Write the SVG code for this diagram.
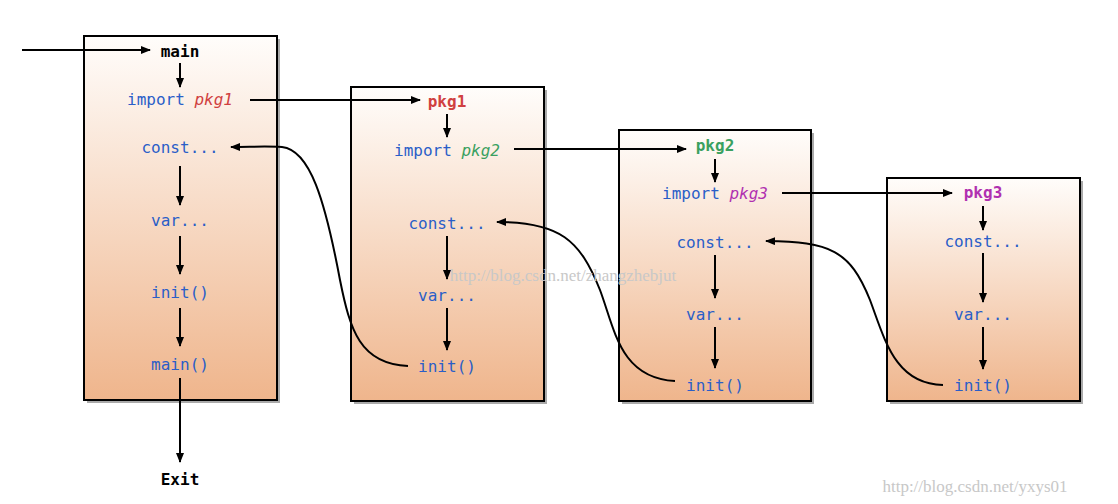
<svg xmlns="http://www.w3.org/2000/svg" width="1118" height="504" viewBox="0 0 1118 504">
<style>
text{font-family:"DejaVu Sans Mono","Liberation Mono",monospace;font-size:16px;text-anchor:middle}
.b{fill:#2a5ec8}.k{fill:#000;font-weight:bold}.r{fill:#d04040}.g{fill:#3aa060}.m{fill:#b030b0}
.i{font-style:italic}
.box{fill:url(#gr);stroke:#000;stroke-width:2}
.sh{fill:#555;opacity:.5}
.c line,.c path{stroke:#000;stroke-width:2;fill:none;marker-end:url(#ah)}
.wm{fill:#c8c8c8;font-family:"Liberation Serif",serif;font-size:17px}
</style>
<defs>
<linearGradient id="gr" x1="0" y1="0" x2="0" y2="1"><stop offset="0" stop-color="#fffdfb"/><stop offset="1" stop-color="#efb58c"/></linearGradient>
<marker id="ah" markerWidth="10" markerHeight="8" refX="9" refY="4" orient="auto" markerUnits="userSpaceOnUse"><path d="M0,0L10,4L0,8z" fill="#000"/></marker>
</defs>
<g id="main-box"><rect class="sh" x="87" y="39" width="193" height="364"/><rect class="box" x="84" y="36" width="193" height="364"/>
<text class="k" x="180" y="57">main</text>
<text x="180" y="105"><tspan class="b">import </tspan><tspan class="r i">pkg1</tspan></text>
<text class="b" x="180" y="153">const...</text><text class="b" x="180" y="226">var...</text><text class="b" x="180" y="298">init()</text><text class="b" x="180" y="370">main()</text></g>
<g id="pkg1-box"><rect class="sh" x="354" y="90" width="193" height="314"/><rect class="box" x="351" y="87" width="193" height="314"/>
<text class="r" font-weight="bold" x="447" y="107">pkg1</text>
<text x="447" y="156"><tspan class="b">import </tspan><tspan class="g i">pkg2</tspan></text>
<text class="b" x="447" y="229">const...</text><text class="b" x="447" y="301">var...</text><text class="b" x="447" y="372">init()</text></g>
<g id="pkg2-box"><rect class="sh" x="622" y="133" width="192" height="271"/><rect class="box" x="619" y="130" width="192" height="271"/>
<text class="g" font-weight="bold" x="715" y="151">pkg2</text>
<text x="715" y="199"><tspan class="b">import </tspan><tspan class="m i">pkg3</tspan></text>
<text class="b" x="715" y="248">const...</text><text class="b" x="715" y="320">var...</text><text class="b" x="715" y="391">init()</text></g>
<g id="pkg3-box"><rect class="sh" x="890" y="181" width="193" height="223"/><rect class="box" x="887" y="178" width="193" height="223"/>
<text class="m" font-weight="bold" x="983" y="198">pkg3</text>
<text class="b" x="983" y="247">const...</text><text class="b" x="983" y="320">var...</text><text class="b" x="983" y="391">init()</text></g>
<text class="k" x="180" y="485">Exit</text>
<g id="connectors" class="c">
<line x1="22" y1="50" x2="150" y2="50"/>
<line x1="180" y1="63" x2="180" y2="87"/>
<line x1="180" y1="166" x2="180" y2="205"/>
<line x1="180" y1="236" x2="180" y2="274"/>
<line x1="180" y1="308" x2="180" y2="346"/>
<line x1="180" y1="378" x2="180" y2="462"/>
<line x1="250" y1="100" x2="420" y2="100"/>
<line x1="447" y1="114" x2="447" y2="137"/>
<line x1="514" y1="149" x2="686" y2="149"/>
<line x1="447" y1="236" x2="447" y2="279"/>
<line x1="447" y1="308" x2="447" y2="350"/>
<line x1="715" y1="159" x2="715" y2="182"/>
<line x1="782" y1="193" x2="952" y2="193"/>
<line x1="715" y1="255" x2="715" y2="298"/>
<line x1="715" y1="327" x2="715" y2="368"/>
<line x1="983" y1="206" x2="983" y2="230"/>
<line x1="983" y1="253" x2="983" y2="302"/>
<line x1="983" y1="327" x2="983" y2="369"/>
<path d="M408,366 C360,364 350,330 340,280 C325,200 310,150 282,147 C265,146 250,147 231,147"/>
<path d="M675,381 C620,378 615,330 600,290 C580,240 560,222 497,222"/>
<path d="M943,385 C895,384 885,340 870,300 C850,250 830,242 766,241"/>
</g>
<text class="wm" x="563" y="281">http://blog.csdn.net/zhangzhebjut</text>
<text class="wm" x="975" y="492">http://blog.csdn.net/yxys01</text>
</svg>
